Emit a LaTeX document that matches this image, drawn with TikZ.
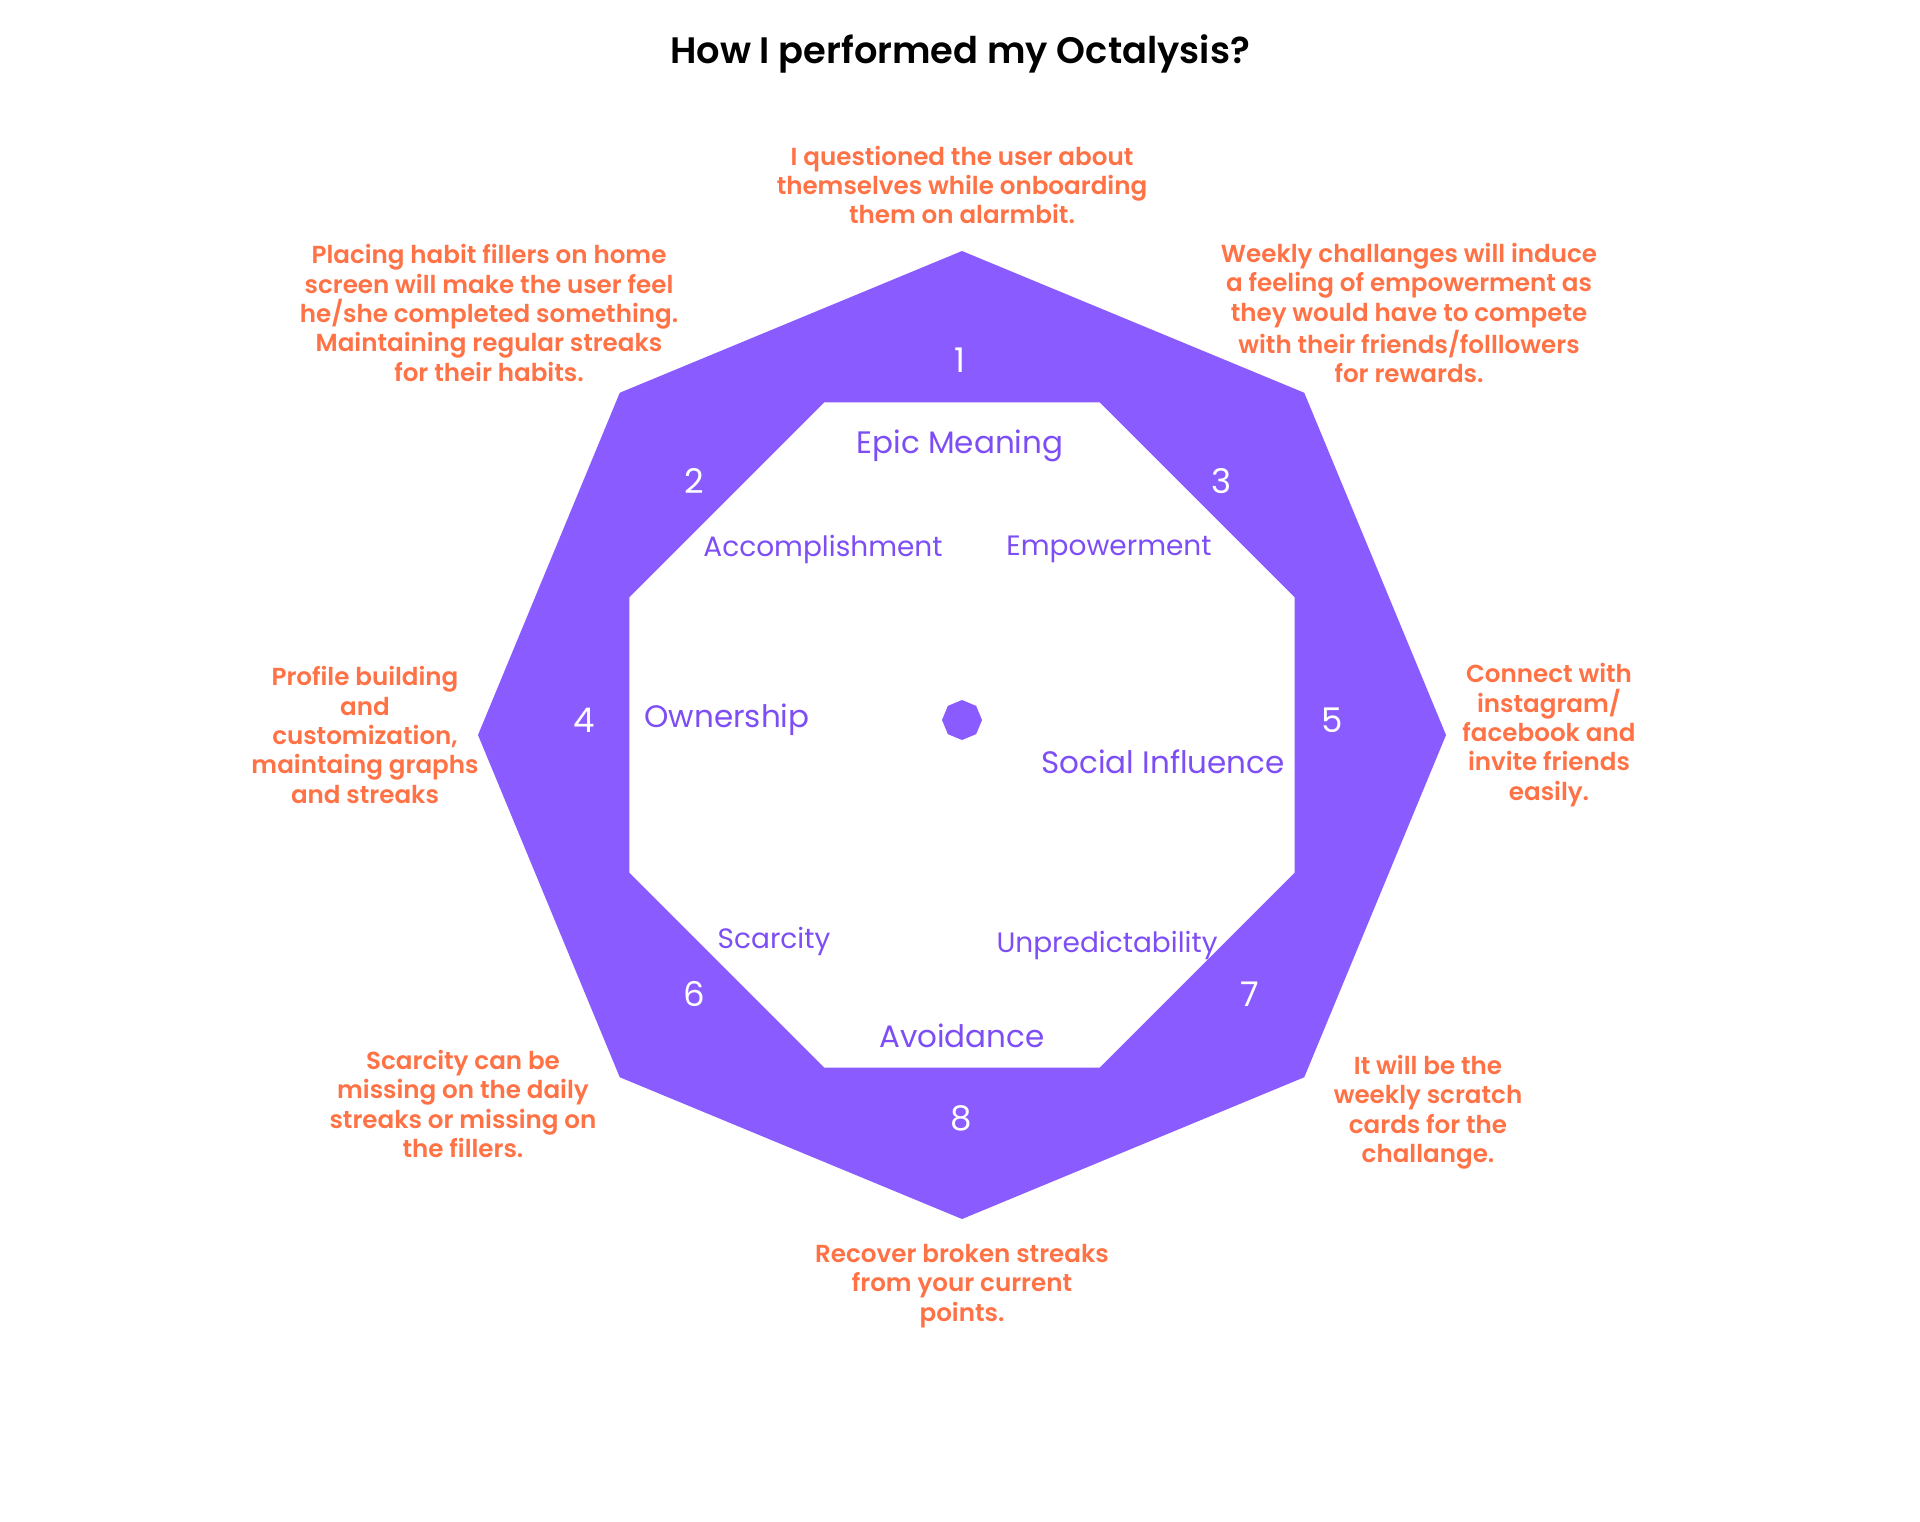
\documentclass[tikz,border=0pt]{standalone}
\usepackage{fontspec}
\setmainfont{Poppins}
\newfontfamily\notefont{Poppins SemiBold}
\usepackage{xcolor}
\definecolor{octpurple}{HTML}{8A5CFF}
\definecolor{labpurple}{HTML}{7D4DF5}
\definecolor{noteorange}{HTML}{FF7246}

\begin{document}
\begin{tikzpicture}[x=0.5pt, y=-0.5pt,
    note/.style={text=noteorange, align=center, font=\notefont\fontsize{12.3}{14.7}\selectfont},
    core/.style={text=labpurple, font=\fontsize{15.5}{18}\selectfont},
    coresmall/.style={text=labpurple, font=\fontsize{14}{16}\selectfont},
    num/.style={text=white, font=\fontsize{17}{20}\selectfont}]

    \useasboundingbox (0,0) rectangle (1920,1521);

    % Title
    \node[font=\notefont\fontsize{18.4}{22}\selectfont] (title) at (960,54) {How I performed my Octalysis?};

    % Octagon band
    \begin{scope}[shift={(962,735)}]
        \fill[octpurple, even odd rule] (0:484) \foreach \a in {45,90,...,315} { -- (\a:484) } -- cycle
            (22.5:360) \foreach \a in {67.5,112.5,...,337.5} { -- (\a:360) } -- cycle;
    \end{scope}
    % centre
    \begin{scope}[shift={(962,720)}]
        \fill[octpurple] (0:20) \foreach \a in {45,90,...,315} { -- (\a:20) } -- cycle;
    \end{scope}

    % Drive numbers
    \node[num] (n1) at (960,360) {1};
    \node[num] (n2) at (694,481) {2};
    \node[num] (n3) at (1221,481) {3};
    \node[num] (n4) at (584,720) {4};
    \node[num] (n5) at (1332,720) {5};
    \node[num] (n6) at (694,994) {6};
    \node[num] (n7) at (1250,994) {7};
    \node[num] (n8) at (961,1118) {8};

    % Core drives
    \node[core] (epic) at (960,446) {Epic Meaning};
    \node[coresmall] (accomp) at (823,549) {Accomplishment};
    \node[coresmall] (empow) at (1109,549) {Empowerment};
    \node[core] (owner) at (727,720) {Ownership};
    \node[core] (social) at (1163,762) {Social Influence};
    \node[coresmall] (scarce) at (774,941) {Scarcity};
    \node[coresmall] (unpred) at (1107,945) {Unpredictability};
    \node[core] (avoid) at (962,1036) {Avoidance};

    % Notes
    \node[note] (note1) at (962,185) {I questioned the user about\\themselves while onboarding\\them on alarmbit.};
    \node[note] (note2) at (489,313) {Placing habit fillers on home\\screen will make the user feel\\he/she completed something.\\Maintaining regular streaks\\for their habits.};
    \node[note] (note3) at (1409,313) {Weekly challanges will induce\\a feeling of empowerment as\\they would have to compete\\with their friends/folllowers\\for rewards.};
    \node[note] (note4) at (365,735) {Profile building\\and\\customization,\\maintaing graphs\\and streaks};
    \node[note] (note5) at (1549,735) {Connect with\\instagram/\\facebook and\\invite friends\\easily.};
    \node[note] (note6) at (463,1104) {Scarcity can be\\missing on the daily\\streaks or missing on\\the fillers.};
    \node[note] (note7) at (1428,1112) {It will be the\\weekly scratch\\cards for the\\challange.};
    \node[note] (note8) at (962,1286) {Recover broken streaks\\from your current\\points.};

\end{tikzpicture}
\end{document}
